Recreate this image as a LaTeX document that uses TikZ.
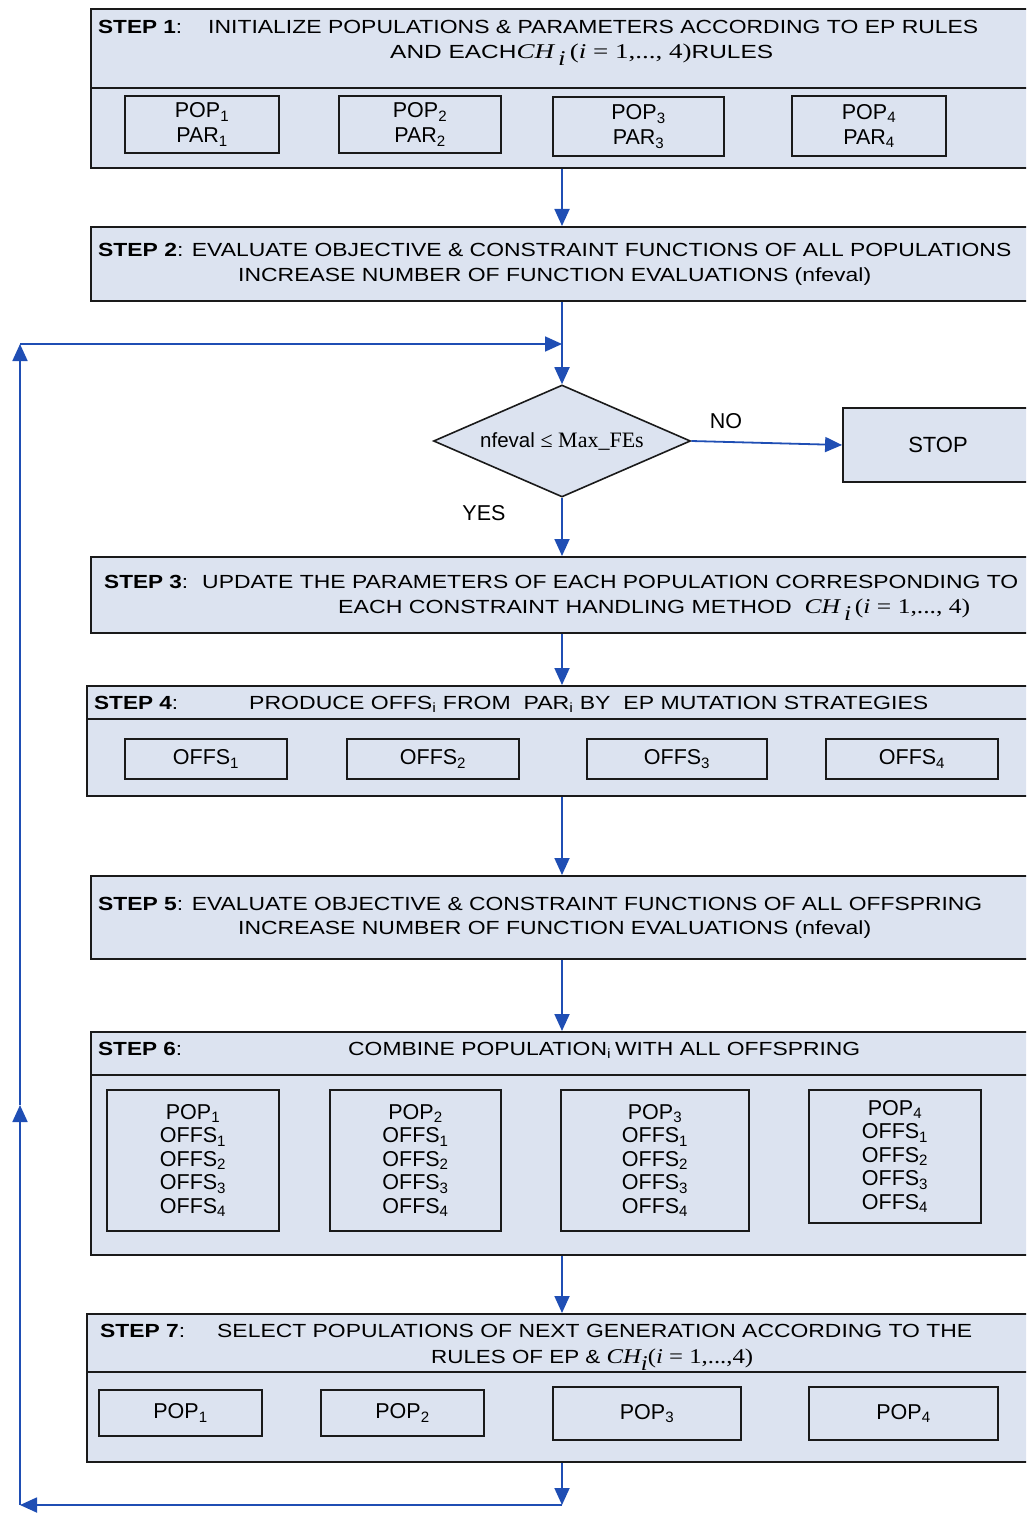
\documentclass[tikz,border=0pt]{standalone}
\usepackage{fontspec}
\setmainfont{Liberation Sans}
\newfontfamily\tnr{Liberation Serif}
\usetikzlibrary{shapes.geometric,arrows.meta}
\definecolor{panelfill}{HTML}{DCE3F0}
\definecolor{flowblue}{HTML}{1F4EB4}
\definecolor{edgecol}{HTML}{1A1A1A}
\newcommand\fitto[2]{\resizebox{#1pt}{\height}{#2}}
\newcommand\sbs[1]{\textsubscript{#1}}
\newcommand\fs{\fontsize{19}{25}\selectfont}
\newcommand\fc{\fontsize{21.5}{25}\selectfont}
\newcommand\fsb{\fontsize{21.5}{23.5}\selectfont}
\newcommand\chexpr{{\tnr\fontsize{21}{25}\selectfont\itshape CH}\,\raisebox{-7pt}{\tnr\fontsize{21}{25}\selectfont\itshape i}\,{\tnr\fontsize{21}{25}\selectfont(\textit{i} = 1,..., 4)}}
\newcommand\chexprb{{\tnr\fontsize{21}{25}\selectfont\itshape CH}\raisebox{-7pt}{\tnr\fontsize{21}{25}\selectfont\itshape i}{\tnr\fontsize{21}{25}\selectfont(\textit{i} = 1,...,4)}}
\tikzset{
  panel/.style={draw=edgecol, line width=1.8pt, fill=panelfill, inner sep=0pt, anchor=north west, minimum width=960pt},
  cell/.style={draw=edgecol, line width=1.6pt, fill=panelfill, inner sep=0pt, align=center, font=\fc},
  bigcell/.style={cell, font=\fsb},
  txt/.style={inner sep=0pt, anchor=base west, font=\fs},
  ctxt/.style={inner sep=0pt, anchor=base, font=\fc},
  flow/.style={draw=flowblue, line width=1.8pt, -{Triangle[length=17pt,width=15pt]}},
  divider/.style={draw=edgecol, line width=1.6pt},
}
\begin{document}
\begin{tikzpicture}[x=1pt,y=-1pt]
\useasboundingbox (0,0) rectangle (1026,1514);
\clip (0,0) rectangle (1026,1514);

% ---------- STEP 1 ----------
\node[panel, minimum height=159pt] (s1) at (90,8) {};
\draw[divider] (s1.west |- 0,88) -- (s1.east |- 0,88);
\node[txt] (s1a) at (98,34) {\fitto{84}{\textbf{STEP 1}:}};
\node[txt] (s1b) at (208,34) {\fitto{770}{INITIALIZE POPULATIONS \& PARAMETERS ACCORDING TO EP RULES}};
\node[txt] (s1c) at (390,59) {\fitto{383}{AND EACH\chexpr RULES}};
\node[cell, minimum width=154pt, minimum height=57pt] (p11) at (202,124.5) {POP\sbs{1}\\PAR\sbs{1}};
\node[cell, minimum width=162pt, minimum height=57pt] (p12) at (420,124.5) {POP\sbs{2}\\PAR\sbs{2}};
\node[cell, minimum width=171pt, minimum height=59pt] (p13) at (638.5,126.5) {POP\sbs{3}\\PAR\sbs{3}};
\node[cell, minimum width=154pt, minimum height=60pt] (p14) at (869,126) {POP\sbs{4}\\PAR\sbs{4}};

% ---------- STEP 2 ----------
\node[panel, minimum height=74pt] (s2) at (90,226) {};
\node[txt] (s2a) at (98,257) {\fitto{913}{\textbf{STEP 2}: EVALUATE OBJECTIVE \& CONSTRAINT FUNCTIONS OF ALL POPULATIONS}};
\node[txt] (s2b) at (238,281) {\fitto{633}{INCREASE NUMBER OF FUNCTION EVALUATIONS (nfeval)}};

% ---------- decision ----------
\node[diamond, aspect=2.3, draw=edgecol, line width=1.6pt, fill=panelfill, inner sep=0pt,
      minimum width=257pt, minimum height=112pt, font=\fontsize{20.5}{25}\selectfont] (dec) at (562,441)
      {nfeval {\tnr\fontsize{22}{25}\selectfont ≤ Max\_FEs}};
\node[draw=edgecol, line width=1.8pt, fill=panelfill, minimum width=190pt, minimum height=74pt, inner sep=0pt, font=\fontsize{22}{26}\selectfont] (stop) at (938,445) {STOP};
\node[ctxt] (no) at (726,428) {NO};
\node[ctxt] (yes) at (484,520) {YES};

% ---------- STEP 3 ----------
\node[panel, minimum height=76pt] (s3) at (90,556) {};
\node[txt] (s3a) at (104,588) {\fitto{84}{\textbf{STEP 3}:}};
\node[txt] (s3b) at (202,588) {\fitto{816}{UPDATE THE PARAMETERS OF EACH POPULATION CORRESPONDING TO}};
\node[txt] (s3c) at (338,613) {\fitto{632}{EACH CONSTRAINT HANDLING METHOD\ \ \chexpr}};

% ---------- STEP 4 ----------
\node[panel, minimum height=110pt] (s4) at (86,685) {};
\draw[divider] (s4.west |- 0,719) -- (s4.east |- 0,719);
\node[txt] (s4a) at (94,709) {\fitto{84}{\textbf{STEP 4}:}};
\node[txt] (s4b) at (249,709) {\fitto{679}{PRODUCE OFFS\sbs{i} FROM\ \ PAR\sbs{i} BY\ \ EP MUTATION STRATEGIES}};
\node[cell, minimum width=162pt, minimum height=40pt] (o1) at (206,759) {OFFS\sbs{1}};
\node[cell, minimum width=172pt, minimum height=40pt] (o2) at (433,759) {OFFS\sbs{2}};
\node[cell, minimum width=180pt, minimum height=40pt] (o3) at (677,759) {OFFS\sbs{3}};
\node[cell, minimum width=172pt, minimum height=40pt] (o4) at (912,759) {OFFS\sbs{4}};

% ---------- STEP 5 ----------
\node[panel, minimum height=83pt] (s5) at (90,875) {};
\node[txt] (s5a) at (98,910) {\fitto{884}{\textbf{STEP 5}: EVALUATE OBJECTIVE \& CONSTRAINT FUNCTIONS OF ALL OFFSPRING}};
\node[txt] (s5b) at (238,934) {\fitto{633}{INCREASE NUMBER OF FUNCTION EVALUATIONS (nfeval)}};

% ---------- STEP 6 ----------
\node[panel, minimum height=223pt] (s6) at (90,1031) {};
\draw[divider] (s6.west |- 0,1075) -- (s6.east |- 0,1075);
\node[txt] (s6a) at (98,1055) {\fitto{84}{\textbf{STEP 6}:}};
\node[txt] (s6b) at (348,1055) {\fitto{512}{COMBINE POPULATION\sbs{i}\,WITH ALL OFFSPRING}};
\node[bigcell, minimum width=172pt, minimum height=141pt] (c1) at (193,1160.5) {POP\sbs{1}\\OFFS\sbs{1}\\OFFS\sbs{2}\\OFFS\sbs{3}\\OFFS\sbs{4}};
\node[bigcell, minimum width=171pt, minimum height=141pt] (c2) at (415.5,1160.5) {POP\sbs{2}\\OFFS\sbs{1}\\OFFS\sbs{2}\\OFFS\sbs{3}\\OFFS\sbs{4}};
\node[bigcell, minimum width=188pt, minimum height=141pt] (c3) at (655,1160.5) {POP\sbs{3}\\OFFS\sbs{1}\\OFFS\sbs{2}\\OFFS\sbs{3}\\OFFS\sbs{4}};
\node[bigcell, minimum width=172pt, minimum height=133pt] (c4) at (895,1156.5) {POP\sbs{4}\\OFFS\sbs{1}\\OFFS\sbs{2}\\OFFS\sbs{3}\\OFFS\sbs{4}};

% ---------- STEP 7 ----------
\node[panel, minimum height=148pt] (s7) at (86,1313) {};
\draw[divider] (s7.west |- 0,1372) -- (s7.east |- 0,1372);
\node[txt] (s7a) at (100,1337) {\fitto{85}{\textbf{STEP 7}:}};
\node[txt] (s7b) at (217,1337) {\fitto{755}{SELECT POPULATIONS OF NEXT GENERATION ACCORDING TO THE}};
\node[txt] (s7c) at (431,1363) {\fitto{322}{RULES OF EP \& \chexprb}};
\node[cell, minimum width=163pt, minimum height=46pt] (q1) at (180.5,1413) {POP\sbs{1}};
\node[cell, minimum width=163pt, minimum height=46pt] (q2) at (402.5,1413) {POP\sbs{2}};
\node[cell, minimum width=188pt, minimum height=53pt] (q3) at (647,1413.5) {POP\sbs{3}};
\node[cell, minimum width=189pt, minimum height=53pt] (q4) at (903.5,1413.5) {POP\sbs{4}};

% ---------- connectors ----------
\coordinate (cx) at (562,0);
\coordinate (lb) at (562,1505);
\coordinate (ll) at (20,1505);
\coordinate (lm) at (20,1105);
\coordinate (lt) at (20,344);
\draw[flow] (s1.south -| cx) -- (s2.north -| cx);
\draw[flow] (s2.south -| cx) -- (dec.north);
\draw[flow] (dec.east) -- (stop.west);
\draw[flow] (dec.south) -- (s3.north -| cx);
\draw[flow] (s3.south -| cx) -- (s4.north -| cx);
\draw[flow] (s4.south -| cx) -- (s5.north -| cx);
\draw[flow] (s5.south -| cx) -- (s6.north -| cx);
\draw[flow] (s6.south -| cx) -- (s7.north -| cx);
\draw[flow] (s7.south -| cx) -- (lb);
\draw[flow] (lb) -- (ll);
\draw[flow] (ll) -- (lm);
\draw[flow] (lm) -- (lt);
\draw[flow] (lt) -- (lt -| cx);
\end{tikzpicture}
\end{document}
